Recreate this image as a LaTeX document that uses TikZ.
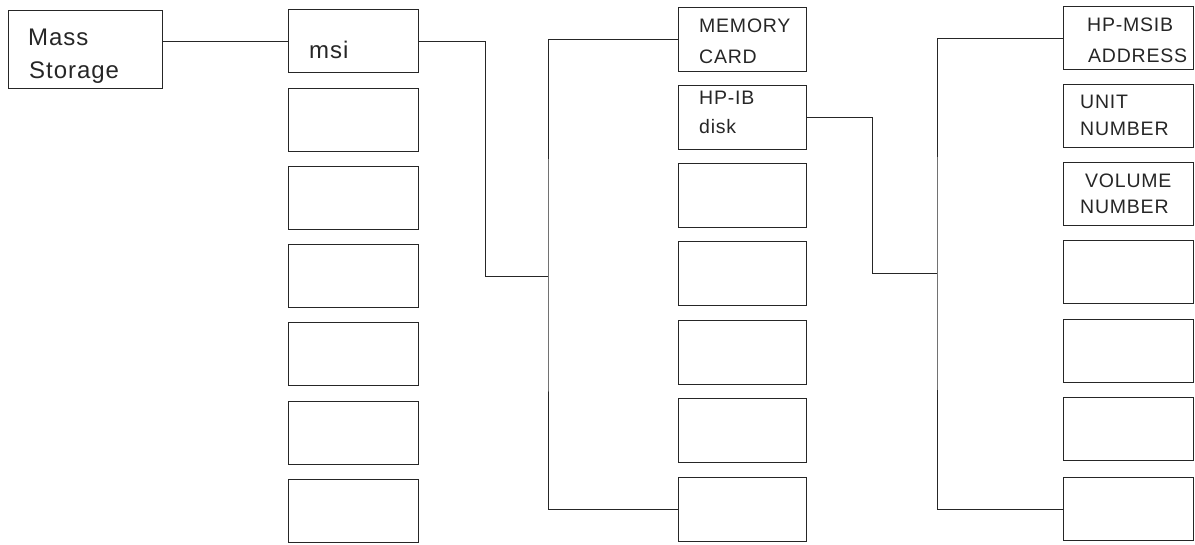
\documentclass[tikz,border=0pt]{standalone}
\usepackage{fontspec}
\setmainfont{Liberation Sans}
\newfontfamily\lblfont[LetterSpace=4]{Liberation Sans}
\begin{document}
\begin{tikzpicture}[x=1pt,y=-1pt,
  box/.style={draw=black!85, line width=0.8pt, inner sep=0pt, anchor=north west, minimum height=63pt},
  wa/.style={box, minimum width=130pt},
  wb/.style={box, minimum width=128pt, minimum height=64pt},
  wire/.style={draw=black!85, line width=0.8pt},
  big/.style={anchor=base west, inner sep=0pt, text=black!85, font=\lblfont\fontsize{24}{28}\selectfont},
  lbl/.style={anchor=base west, inner sep=0pt, text=black!85, font=\lblfont\fontsize{19.5}{24}\selectfont}
]
\useasboundingbox (0,0) rectangle (1195,544);
% Mass storage
\node[box, minimum width=154pt, minimum height=78pt] (ms) at (8,10) {};
\node[big] (t1) at (28,45) {Mass};
\node[big] (t2) at (29,78) {Storage};
% column 1
\foreach \i/\y in {1/9,2/88,3/166,4/244,5/322,6/401,7/479}
  \node[wa] (a\i) at (288,\y) {};
\node[big] (t3) at (309,58) {msi};
% column 2
\foreach \i/\y in {1/7,2/85,3/163,4/241,5/320,6/398,7/477}
  \node[wb] (b\i) at (678,\y) {};
\node[lbl] (t4) at (699,32) {MEMORY};
\node[lbl] (t5) at (699,63) {CARD};
\node[lbl] (t6) at (699,104) {HP-IB};
\node[lbl] (t7) at (699,133) {disk};
% column 3
\foreach \i/\y in {1/6,2/84,3/162,4/240,5/319,6/397,7/477}
  \node[wa] (c\i) at (1063,\y) {};
\node[lbl] (t8) at (1087,31) {HP-MSIB};
\node[lbl] (t9) at (1088,62) {ADDRESS};
\node[lbl] (t10) at (1080,108) {UNIT};
\node[lbl] (t11) at (1080,135) {NUMBER};
\node[lbl] (t12) at (1085,187) {VOLUME};
\node[lbl] (t13) at (1080,213) {NUMBER};
% coordinates for buses
\coordinate (k1) at (485,276);
\coordinate (bus2) at (548,276);
\coordinate (k2) at (872,273);
\coordinate (bus3) at (937,273);
% connectors
\draw[wire] (ms.east |- a1.west) -- (a1.west);
\draw[wire] (a1.east) -| (k1) -- (bus2);
\draw[wire] (b1.west) -| (bus2) |- (b7.west);
\draw[wire] (b2.east) -| (k2) -- (bus3);
\draw[wire] (c1.west) -| (bus3) |- (c7.west);
\end{tikzpicture}
\end{document}
